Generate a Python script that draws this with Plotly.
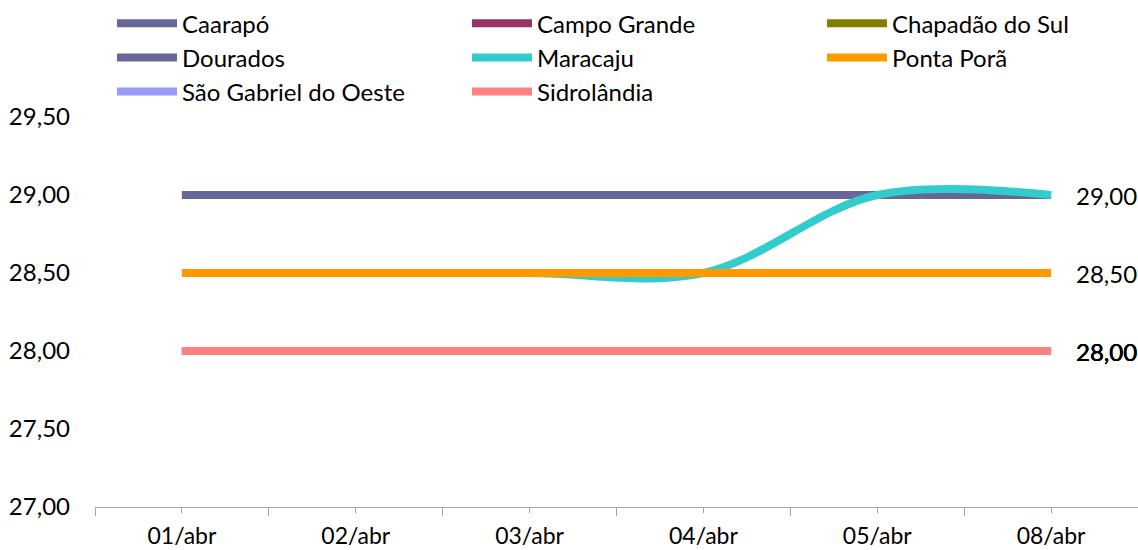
import plotly.graph_objects as go

categories = ["01/abr", "02/abr", "03/abr", "04/abr", "05/abr", "08/abr"]

series_names = ["Caarapó", "Campo Grande", "Chapadão do Sul", "Dourados",
                "Maracaju", "Ponta Porã", "São Gabriel do Oeste", "Sidrolândia"]
caarapo = [29.0, 29.0, 29.0, 29.0, 29.0, 29.0]
campo_grande = [28.0, 28.0, 28.0, 28.0, 28.0, 28.0]
chapadao = [28.0, 28.0, 28.0, 28.0, 28.0, 28.0]
dourados = [29.0, 29.0, 29.0, 29.0, 29.0, 29.0]
maracaju = [28.5, 28.5, 28.5, 28.5, 29.0, 29.0]
ponta_pora = [28.5, 28.5, 28.5, 28.5, 28.5, 28.5]
sao_gabriel = [28.0, 28.0, 28.0, 28.0, 28.0, 28.0]
sidrolandia = [28.0, 28.0, 28.0, 28.0, 28.0, 28.0]

series_values = [caarapo, campo_grande, chapadao, dourados,
                 maracaju, ponta_pora, sao_gabriel, sidrolandia]
colors = ["#666699", "#993366", "#808000", "#666699",
          "#33CCCC", "#FF9900", "#9999FF", "#FF8080"]
show_label = [False, True, True, False, True, True, True, True]
# legend column (1..3) of each series, as laid out row by row in three columns
legend_ids = ["legend", "legend2", "legend3", "legend",
              "legend2", "legend3", "legend", "legend2"]

FONT = "Lato"
FS = 24
x_idx = list(range(len(categories)))

fig = go.Figure()
for name, vals, col, lg in zip(series_names, series_values, colors, legend_ids):
    fig.add_trace(go.Scatter(
        x=x_idx, y=vals, name=name, mode="lines", legend=lg,
        line=dict(color=col, width=8, shape="spline", smoothing=1.0),
        hoverinfo="skip",
    ))

for vals, lab in zip(series_values, show_label):
    if lab:
        fig.add_annotation(
            x=x_idx[-1], y=vals[-1], text=f"{vals[-1]:.2f}".replace(".", ","),
            xanchor="left", yanchor="middle", xshift=23, showarrow=False,
            font=dict(family=FONT, size=FS, color="#000000"),
        )

def legend_cfg(xpx):
    return dict(
        orientation="v", xref="container", yref="container",
        x=xpx / 1138, xanchor="left", y=0.998, yanchor="top",
        font=dict(family=FONT, size=FS, color="#000000"),
        traceorder="normal", itemwidth=60, tracegroupgap=0,
        bgcolor="rgba(0,0,0,0)", borderwidth=0,
    )

fig.update_layout(
    width=1138, height=550,
    margin=dict(l=95, r=0, t=117, b=43, autoexpand=False),
    paper_bgcolor="white", plot_bgcolor="white",
    separators=",.",
    font=dict(family=FONT, size=FS, color="#000000"),
    showlegend=True,
    legend=legend_cfg(112),
    legend2=legend_cfg(467),
    legend3=legend_cfg(822),
    xaxis=dict(
        range=[-0.5, 5.5], tickmode="array", tickvals=x_idx, ticktext=categories,
        showgrid=False, zeroline=False, showline=True, linecolor="#A6A6A6", linewidth=1,
        ticks="outside", ticklen=5, tickcolor="#A6A6A6", tickwidth=1,
        minor=dict(tickmode="array", tickvals=[i - 0.5 for i in range(len(categories) + 1)],
                   ticks="outside", ticklen=8, tickcolor="#A6A6A6", tickwidth=1, showgrid=False),
        ticklabelstandoff=3,
        tickfont=dict(family=FONT, size=23, color="#000000"),
    ),
    xaxis2=dict(
        overlaying="x", matches="x", anchor="y", side="bottom",
        range=[-0.5, 5.5], tickmode="array", tickvals=x_idx, ticktext=["" for _ in categories],
        showgrid=False, zeroline=False, showline=False,
        ticks="inside", ticklen=5, tickcolor="#A6A6A6", tickwidth=1,
        minor=dict(tickmode="array", tickvals=[i - 0.5 for i in range(len(categories) + 1)],
                   ticks="inside", ticklen=8, tickcolor="#A6A6A6", tickwidth=1, showgrid=False),
        showticklabels=False,
    ),
    yaxis=dict(
        range=[27, 29.5], tickmode="linear", tick0=27, dtick=0.5, tickformat=".2f",
        showgrid=False, zeroline=False, showline=False, ticks="",
        ticklabelstandoff=24,
        tickfont=dict(family=FONT, size=FS, color="#000000"),
    ),
)

fig.write_html("out.html", config={"displayModeBar": False},
               post_script="document.body.style.margin='0';")
